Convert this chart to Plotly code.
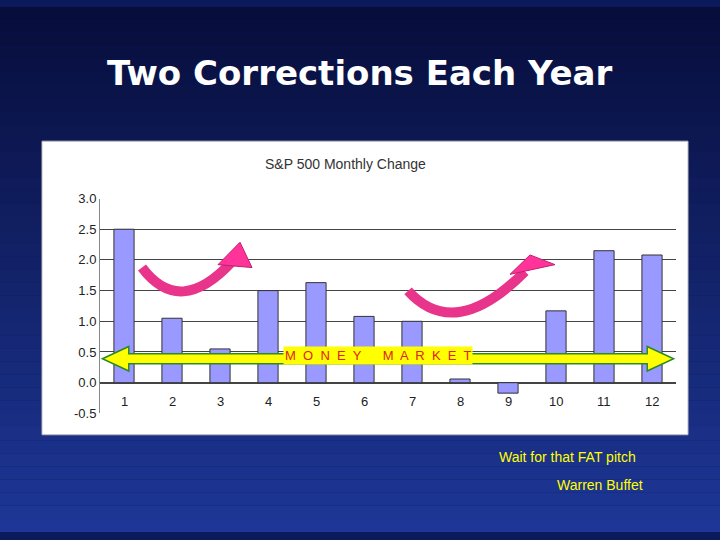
import plotly.graph_objects as go

months = [1,2,3,4,5,6,7,8,9,10,11,12]
changes = [2.5,1.05,0.55,1.5,1.63,1.08,1.0,0.06,-0.17,1.17,2.15,2.08]
yticks = [-0.5,0.0,0.5,1.0,1.5,2.0,2.5,3.0]

W,H=720,540
def P(x,y): return x/W, 1-y/H

fig=go.Figure()
fig.add_bar(x=months,y=changes,width=0.42,marker=dict(color="#9999ff",line=dict(color="#333",width=1)))
shapes=[]
n=40
for i in range(n):
    t=i/(n-1)
    r=int(8+(30-8)*t); g=int(14+(55-14)*t); b=int(60+(150-60)*t)
    shapes.append(dict(type="rect",xref="paper",yref="paper",x0=0,x1=1,y0=1-(i+1)/n,y1=1-i/n,
                       fillcolor=f"rgb({r},{g},{b})",line=dict(width=0),layer="below"))
x0,y0=P(42,138);x1,y1=P(688,440)
shapes.append(dict(type="rect",xref="paper",yref="paper",x0=x0,x1=x1,y0=y1,y1=y0,fillcolor="white",line=dict(color="#bbb",width=1),layer="below"))
ay=0.39
pts=[(0.55,ay),(1.1,ay+0.2),(1.1,ay+0.08),(11.9,ay+0.08),(11.9,ay+0.2),(12.45,ay),(11.9,ay-0.2),(11.9,ay-0.08),(1.1,ay-0.08),(1.1,ay-0.2)]
shapes.append(dict(type="path",xref="x",yref="y",path="M "+" L ".join(f"{a},{b}" for a,b in pts)+" Z",
                   fillcolor="#ffff00",line=dict(color="#2a8a2a",width=1.5)))
def curve(p0,c,p1,head):
    (a,b),(cx,cy),(d,e)=P(*p0),P(*c),P(*p1)
    shapes.append(dict(type="path",xref="paper",yref="paper",path=f"M {a},{b} Q {cx},{cy} {d},{e}",line=dict(color="#e8348a",width=10)))
    hp=[P(*q) for q in head]
    shapes.append(dict(type="path",xref="paper",yref="paper",path="M "+" L ".join(f"{u},{v}" for u,v in hp)+" Z",fillcolor="#ff3399",line=dict(color="#c02070",width=1)))
curve((142,268),(180,320),(232,262),[(218,265),(240,242),(252,268)])
curve((408,292),(455,345),(525,272),[(510,275),(530,255),(555,265)])
fig.update_layout(shapes=shapes)
ann=[]
for m in months:
    ann.append(dict(x=m,y=-0.3,text=str(m),showarrow=False,font=dict(size=13,color="#222")))
ann.append(dict(x=6.3,y=ay+0.05,text="M  O  N  E  Y      M  A  R  K  E  T",showarrow=False,font=dict(size=13,color="#dd2222"),bgcolor="#ffff00"))
tx,ty=P(360,68)
ann.append(dict(xref="paper",yref="paper",x=tx,y=ty,text="<b>Two Corrections Each Year</b>",showarrow=False,font=dict(size=34,color="white",family="DejaVu Sans")))
a,b=P(345,161)
ann.append(dict(xref="paper",yref="paper",x=a,y=b,text="S&P 500 Monthly Change",showarrow=False,font=dict(size=14,color="#333")))
a,b=P(567,463)
ann.append(dict(xref="paper",yref="paper",x=a,y=b,text="Wait for that FAT pitch",showarrow=False,font=dict(size=14,color="#ffff00")))
a,b=P(600,492)
ann.append(dict(xref="paper",yref="paper",x=a,y=b,text="Warren Buffet",showarrow=False,font=dict(size=14,color="#ffff00")))
for d in ann:
    d["xanchor"]="center"; d["yanchor"]="middle"
fig.update_layout(annotations=ann,width=W,height=H,margin=dict(l=0,r=0,t=0,b=0),
    paper_bgcolor="#0b1a5a",plot_bgcolor="white",showlegend=False,
    font=dict(family="Liberation Sans"),
    xaxis=dict(domain=[100/W,676/W],range=[0.5,12.5],showticklabels=False,showgrid=False,zeroline=False,showline=False),
    yaxis=dict(domain=[1-418/H,1-197/H],range=[-0.5,3.0],tickvals=yticks,ticktext=[f"{v:.1f}" for v in yticks],
               showgrid=True,gridcolor="#444",gridwidth=1,zeroline=True,zerolinecolor="#444",
               showline=True,linecolor="#888",tickfont=dict(size=13,color="#222")))
fig.write_html("out.html",config={"displayModeBar":False})
with open("out.html") as f: s=f.read()
s=s.replace("<body>",'<body style="margin:0;overflow:hidden">',1)
with open("out.html","w") as f: f.write(s)
